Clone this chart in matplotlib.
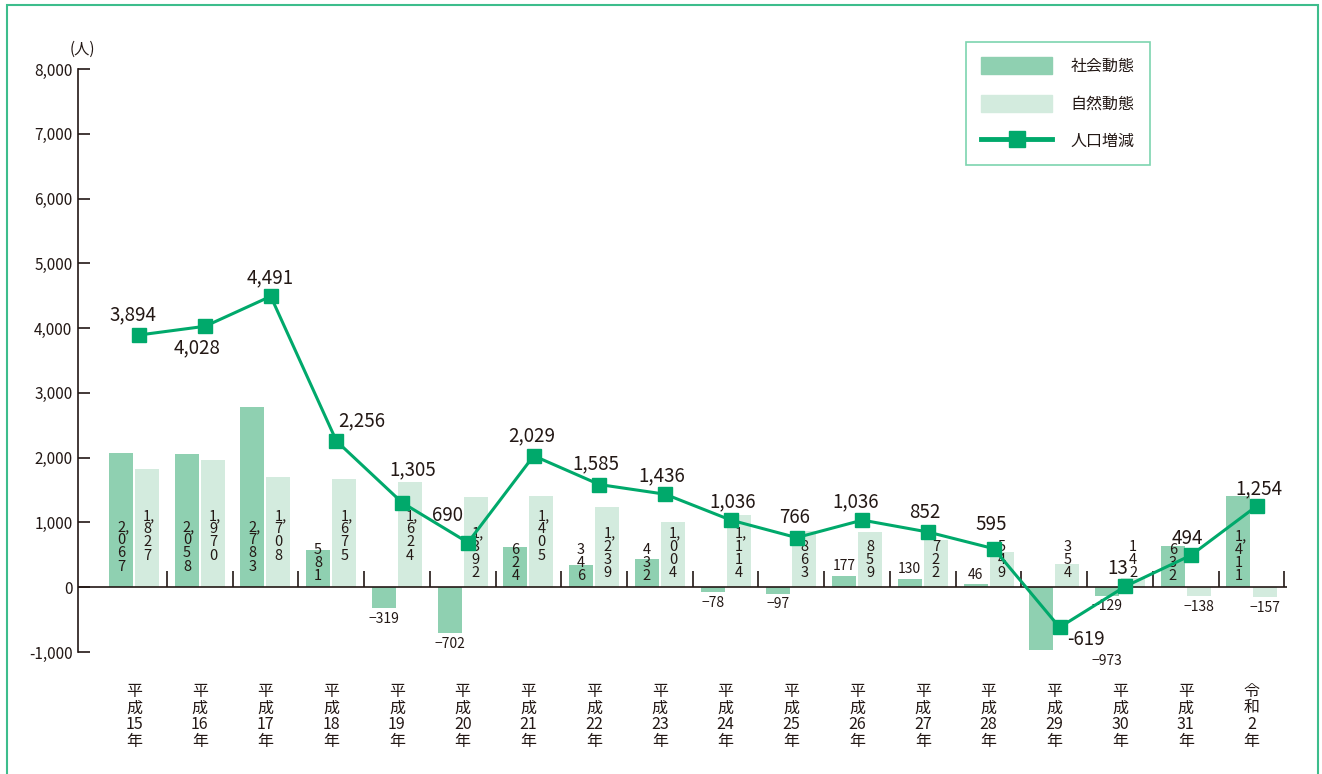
import matplotlib.pyplot as plt
import matplotlib.patches as mpatches
from matplotlib.lines import Line2D

plt.rcParams['font.family'] = ['Noto Sans CJK JP', 'DejaVu Sans']

years = ['平\n成\n15\n年', '平\n成\n16\n年', '平\n成\n17\n年', '平\n成\n18\n年',
         '平\n成\n19\n年', '平\n成\n20\n年', '平\n成\n21\n年', '平\n成\n22\n年',
         '平\n成\n23\n年', '平\n成\n24\n年', '平\n成\n25\n年', '平\n成\n26\n年',
         '平\n成\n27\n年', '平\n成\n28\n年', '平\n成\n29\n年', '平\n成\n30\n年',
         '平\n成\n31\n年', '令\n和\n2\n年']
social = [2067, 2058, 2783, 581, -319, -702, 624, 346, 432, -78, -97, 177, 130, 46, -973, -129, 632, 1411]
natural = [1827, 1970, 1708, 1675, 1624, 1392, 1405, 1239, 1004, 1114, 863, 859, 722, 549, 354, 142, -138, -157]
total = [3894, 4028, 4491, 2256, 1305, 690, 2029, 1585, 1436, 1036, 766, 1036, 852, 595, -619, 13, 494, 1254]

# label offsets for the line values (pixels from marker)
line_lbl_off = [(-6, 20), (-8, -21), (-1, 19), (25, 20), (11, 33), (-20, 27), (-2, 20), (-4, 21),
                (-3, 18), (2, 18), (-2, 20), (-7, 18), (-3, 20), (-3, 24), (26, -12), (-8, 18),
                (-4, 17), (2, 17)]

c_social = '#8fd0b1'
c_natural = '#d3ebde'
c_line = '#00a96b'
c_text = '#231815'

fig = plt.figure(figsize=(13.22, 7.74), dpi=100)
ax = fig.add_axes([78 / 1322, 122 / 774, (1287 - 78) / 1322, (652 - 69) / 774])

x = list(range(len(years)))
w = 0.365
off = 0.198
ax.bar([i - off for i in x], social, width=w, color=c_social, zorder=2)
ax.bar([i + off for i in x], natural, width=w, color=c_natural, zorder=2)


def vert(v):
    lines = []
    for ch in f"{v:,}":
        if ch == ',':
            lines[-1] += ','
        else:
            lines.append(ch)
    return "\n".join(lines)


def bar_label(xp, v, series):
    if v < 0:
        ax.text(xp, v - 60, f"\u2212{abs(v)}", ha='center', va='top', fontsize=10,
                color=c_text, zorder=4)
    elif v < 200 and series == 's':
        ax.text(xp, v + 40, f"{v}", ha='center', va='bottom', fontsize=10,
                color=c_text, zorder=4)
    else:
        if series == 'n':
            base = 380 if v >= 1400 else 110
        else:
            base = 210 if v >= 2000 else 60
        # keep the digits in one column, comma hangs to the right
        dx = 0.035 if v >= 1000 else 0
        ax.text(xp + dx, base, vert(v), ha='center', va='bottom', fontsize=10.5,
                color=c_text, linespacing=0.93, multialignment='left', zorder=4)


for i in x:
    if social[i] < -900:
        # moved right, clear of the line label
        ax.text(i + 1 - off, social[i] - 60, f"\u2212{abs(social[i])}", ha='center',
                va='top', fontsize=10, color=c_text, zorder=4)
    else:
        bar_label(i - off, social[i], 's')
    bar_label(i + off, natural[i], 'n')

xl = [i + 0.08 for i in x]
ax.plot(xl, total, color=c_line, lw=2.2, marker='s', markersize=10.5, zorder=5)
for i in x:
    ax.annotate(f"{total[i]:,}", (xl[i], total[i]), xytext=line_lbl_off[i],
                textcoords='offset pixels', ha='center', va='center', fontsize=13.5,
                color=c_text, zorder=6)

ax.axhline(0, color=c_text, lw=1.2, zorder=3)
ax.vlines([i + 0.5 for i in x], 0, 245, color=c_text, lw=1.2, zorder=3)

ax.set_xlim(-0.852, 17.54)
ax.set_ylim(-1000, 8000)
yt = list(range(-1000, 8001, 1000))
ax.set_yticks(yt, [f"{v:,}" for v in yt])
ax.tick_params(axis='y', direction='in', length=8.6, width=1.2, pad=4, labelsize=11,
               colors=c_text)
ax.set_xticks(x, years)
ax.tick_params(axis='x', length=0, pad=22, labelsize=11.5, colors=c_text)
for lab in ax.get_xticklabels():
    lab.set_linespacing(0.98)
for s in ['top', 'right', 'bottom']:
    ax.spines[s].set_visible(False)
ax.spines['left'].set_color(c_text)
ax.spines['left'].set_linewidth(1.2)

fig.text(82 / 1322, 1 - 49 / 774, '(人)', ha='center', va='center', fontsize=11, color=c_text)

handles = [mpatches.Patch(color=c_social), mpatches.Patch(color=c_natural),
           Line2D([], [], color=c_line, lw=3.5, marker='s', markersize=11)]
leg = ax.legend(handles, ['社会動態', '自然動態', '人口増減'], loc='upper right',
                bbox_to_anchor=(1150 / 1322, 1 - 42 / 774), bbox_transform=fig.transFigure,
                borderaxespad=0, fontsize=11.5, handlelength=4.4, handleheight=1.25,
                labelspacing=1.23, handletextpad=1.2, borderpad=0.95, fancybox=False,
                frameon=True)
leg.get_frame().set_edgecolor('#5cc99b')
leg.get_frame().set_linewidth(1.2)
for t in leg.get_texts():
    t.set_color(c_text)

fig.add_artist(mpatches.Rectangle((6.5 / 1322, -0.05), (1317.5 - 6.5) / 1322, 1.05 - 5 / 774,
                                  transform=fig.transFigure, fill=False,
                                  edgecolor='#3dbd8c', lw=1.5))

fig.savefig('out.png', dpi=100)
